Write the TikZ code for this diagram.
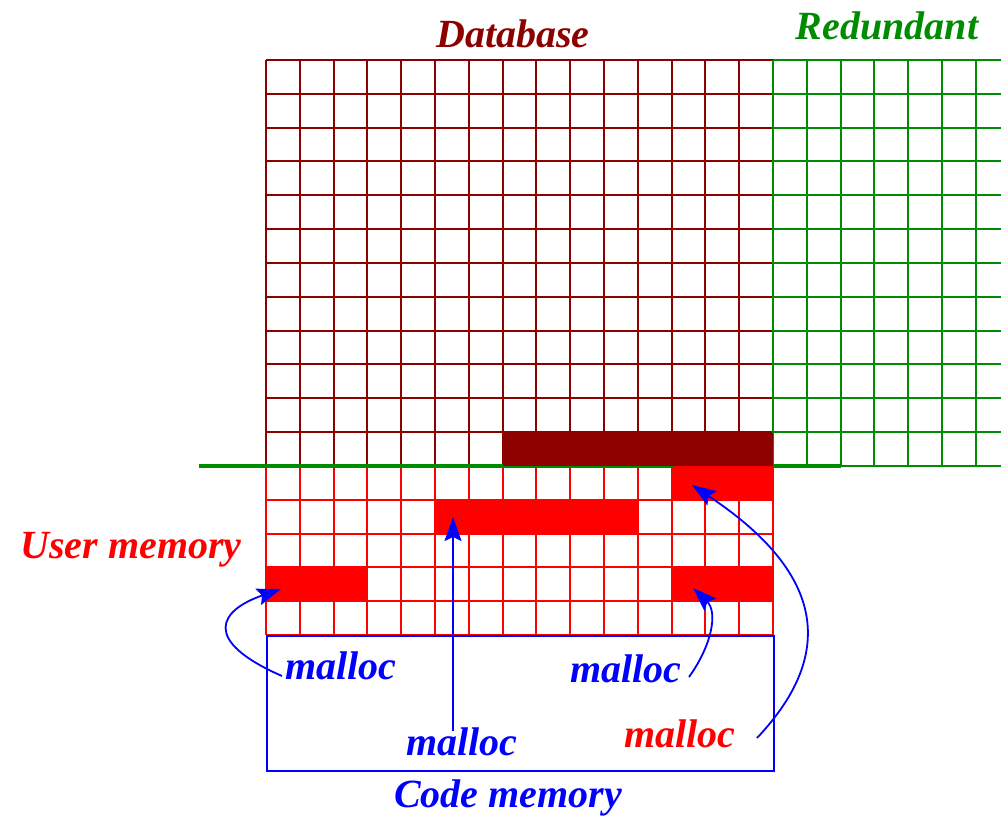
\documentclass[tikz,border=0pt]{standalone}
\usepackage{fontspec}
\setmainfont{Liberation Serif}
\usetikzlibrary{arrows.meta}
\definecolor{dbred}{RGB}{140,0,0}
\definecolor{rgreen}{RGB}{0,140,0}
\definecolor{ublue}{RGB}{0,0,255}
\definecolor{ured}{RGB}{255,0,0}
\tikzset{
  lbl/.style={font=\fontsize{40}{48}\selectfont\bfseries\itshape, inner sep=0pt, anchor=base},
  dbline/.style={draw=dbred, line width=1.6pt},
  rdline/.style={draw=rgreen, line width=1.6pt},
  umline/.style={draw=ured, line width=1.6pt},
  ptr/.style={draw=ublue, line width=1.8pt, -{Stealth[length=24pt,width=17pt,inset=4pt]}},
}
\begin{document}
\begin{tikzpicture}[x=1pt,y=-1pt]
\useasboundingbox (0,0) rectangle (1001,820);

% database grid: 15 x 12 cells
\foreach \i in {0,...,15}
  \draw[dbline] ({266+round(\i*33.8)},60) -- ({266+round(\i*33.8)},466);
\foreach \j in {0,...,12}
  \draw[dbline] (266,{60+round(\j*33.83)}) -- (773,{60+round(\j*33.83)});

% redundant area grid
\foreach \i in {0,...,7}
  \draw[rdline] ({773+round(\i*33.8)},60) -- ({773+round(\i*33.8)},466);
\foreach \j in {0,...,12}
  \draw[rdline] (773,{60+round(\j*33.83)}) -- (1001,{60+round(\j*33.83)});

% user memory grid: 15 x 5 cells
\foreach \i in {0,...,15}
  \draw[umline] ({266+round(\i*33.8)},466) -- ({266+round(\i*33.8)},635);
\foreach \j in {1,...,5}
  \draw[umline] (266,{466+round(\j*33.8)}) -- (773,{466+round(\j*33.8)});

% boundary between database and user memory
\draw[draw=rgreen, line width=4pt] (199,466) -- (841,466);

% allocated blocks
\fill[dbred] (503,433) rectangle (773,466);
\fill[ured] (673,466) rectangle (773,500);
\fill[ured] (436,500) rectangle (639,534);
\fill[ured] (266,568) rectangle (368,602);
\fill[ured] (673,568) rectangle (773,602);

% code memory
\node[draw=ublue, line width=1.8pt, minimum width=507pt, minimum height=135pt, inner sep=0pt, anchor=north west] (code) at (266,635) {};

% labels
\node[lbl, text=dbred] (db) at (513,47) {Database};
\node[lbl, text=rgreen] (red) at (887,39) {Redundant};
\node[lbl, text=ured] (user) at (131,558) {User memory};
\node[lbl, text=ublue] (cm) at (508,807) {Code memory};
\node[lbl, text=ublue] (m1) at (341,679) {malloc};
\node[lbl, text=ublue] (m2) at (462,755) {malloc};
\node[lbl, text=ublue] (m3) at (626,682) {malloc};
\node[lbl, text=ured] (m4) at (680,747) {malloc};

% pointer ends
\coordinate (s1) at (282,676);
\coordinate (t1) at (281,589);
\coordinate (s2) at (453,731);
\coordinate (t2) at (453,517);
\coordinate (s3) at (689,677);
\coordinate (t3) at (693,588);
\coordinate (s4) at (757,738);
\coordinate (t4) at (692,485);

\draw[ptr] (s1) .. controls (200,640) and (220,610) .. (t1);
\draw[ptr] (s2) -- (t2);
\draw[ptr] (s3) .. controls (712,645) and (718,612) .. (t3);
\draw[ptr] (s4) .. controls (840,650) and (820,570) .. (t4);
\end{tikzpicture}
\end{document}
